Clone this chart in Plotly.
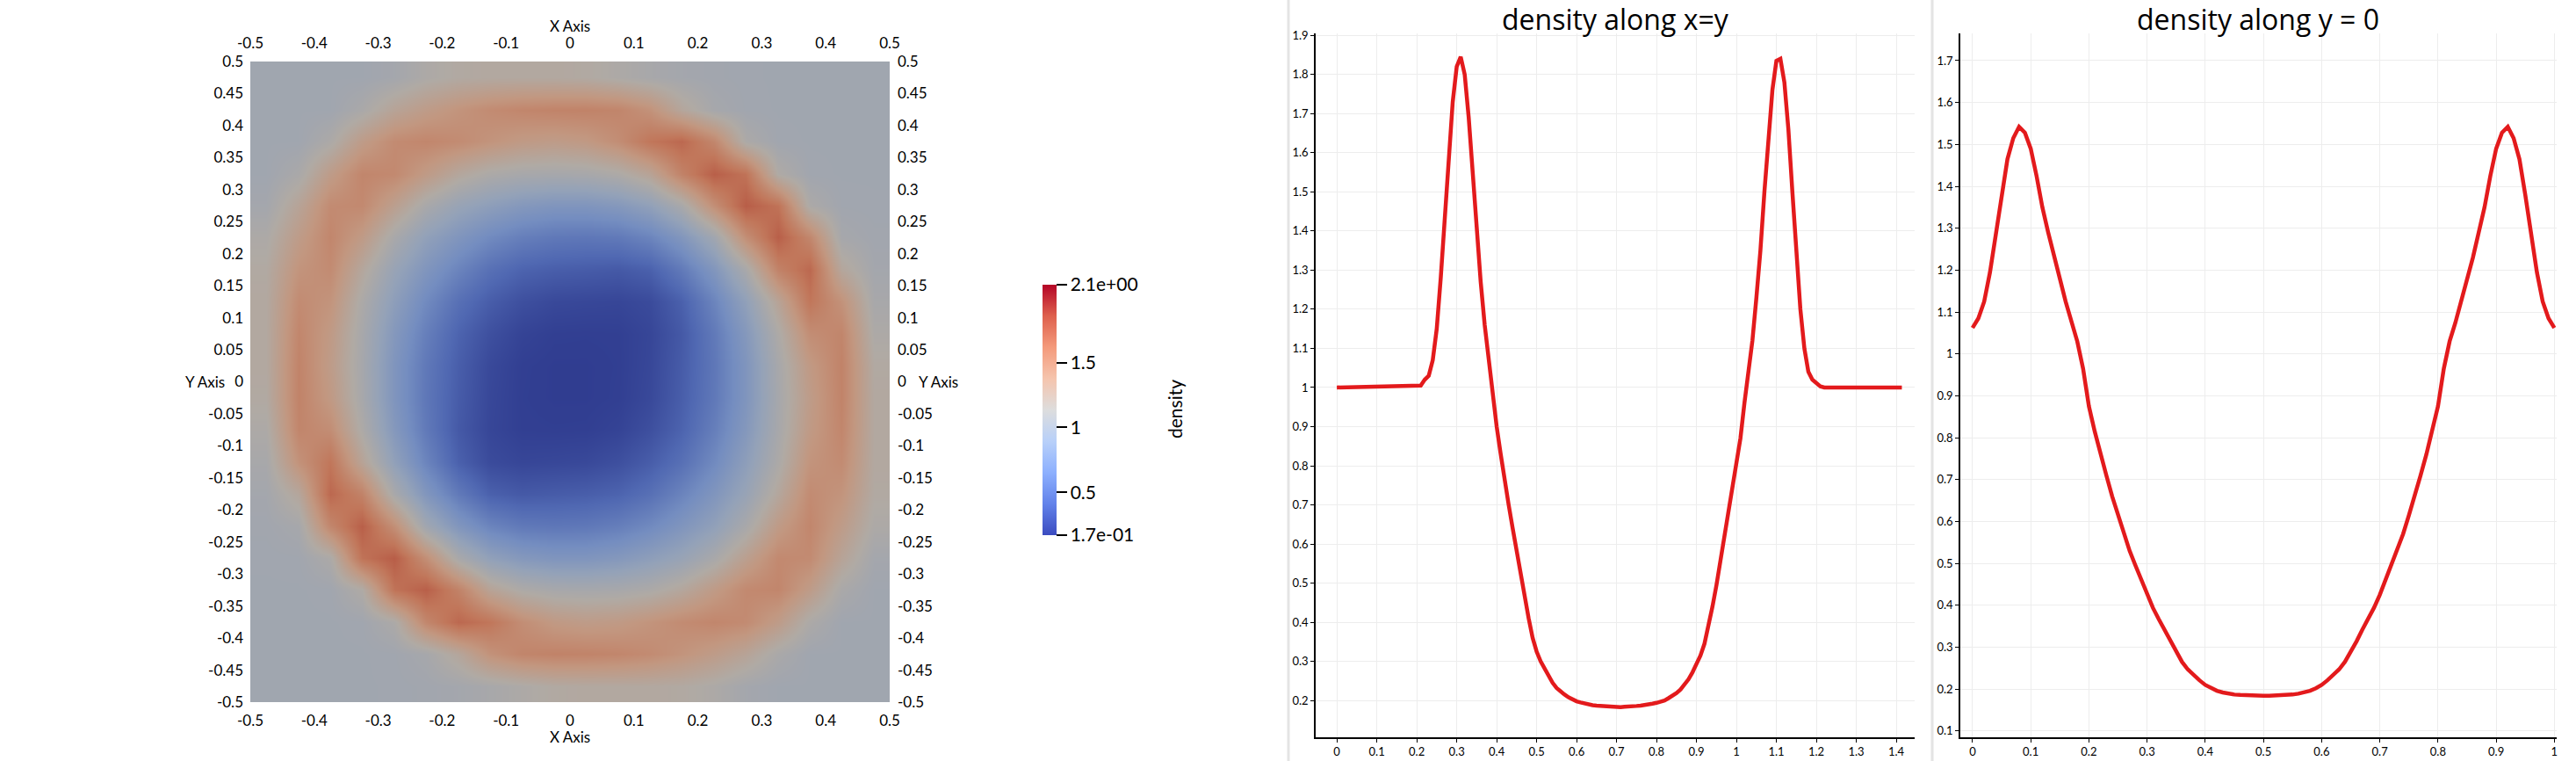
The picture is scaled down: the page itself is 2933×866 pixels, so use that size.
import plotly.graph_objects as go

FONT = "Lato"
TITLE_FONT = "Open Sans"
W, H = 2933, 866

# --- density map: cell centres and values ---
map_x = [-0.475, -0.425, -0.375, -0.325, -0.275, -0.225, -0.175, -0.125, -0.075, -0.025,
         0.025, 0.075, 0.125, 0.175, 0.225, 0.275, 0.325, 0.375, 0.425, 0.475]
map_y = [-0.475, -0.425, -0.375, -0.325, -0.275, -0.225, -0.175, -0.125, -0.075, -0.025,
         0.025, 0.075, 0.125, 0.175, 0.225, 0.275, 0.325, 0.375, 0.425, 0.475]

rho_m475 = [1.0, 1.0, 1.0, 1.0, 1.003, 1.013, 1.03, 1.063, 1.107, 1.15, 1.162, 1.164, 1.162, 1.15, 1.105, 1.032, 1.0, 1.0, 1.0, 1.0]
rho_m425 = [1.0, 1.0, 1.0, 1.0, 1.007, 1.05, 1.194, 1.415, 1.51, 1.53, 1.524, 1.505, 1.467, 1.40, 1.32, 1.225, 1.08, 1.0, 1.0, 1.0]
rho_m375 = [1.0, 1.0, 1.0, 1.006, 1.10, 1.50, 1.70, 1.62, 1.45, 1.35, 1.32, 1.342, 1.40, 1.466, 1.503, 1.468, 1.32, 1.10, 1.0, 1.0]
rho_m325 = [1.0, 1.0, 1.006, 1.125, 1.64, 1.75, 1.53, 1.23, 1.107, 1.058, 1.048, 1.059, 1.097, 1.186, 1.334, 1.482, 1.505, 1.32, 1.08, 1.0]
rho_m275 = [1.003, 1.007, 1.10, 1.64, 1.76, 1.44, 1.068, 0.871, 0.778, 0.739, 0.74, 0.775, 0.844, 0.928, 1.068, 1.277, 1.482, 1.468, 1.225, 1.032]
rho_m225 = [1.013, 1.05, 1.50, 1.75, 1.44, 1.0, 0.752, 0.596, 0.524, 0.508, 0.517, 0.557, 0.633, 0.743, 0.872, 1.068, 1.334, 1.503, 1.32, 1.105]
rho_m175 = [1.03, 1.194, 1.70, 1.53, 1.068, 0.752, 0.525, 0.372, 0.333, 0.346, 0.358, 0.387, 0.462, 0.59, 0.743, 0.928, 1.186, 1.466, 1.40, 1.15]
rho_m125 = [1.063, 1.415, 1.62, 1.23, 0.871, 0.596, 0.372, 0.259, 0.233, 0.239, 0.247, 0.282, 0.353, 0.462, 0.633, 0.844, 1.097, 1.40, 1.467, 1.162]
rho_m075 = [1.107, 1.51, 1.45, 1.107, 0.778, 0.524, 0.333, 0.233, 0.198, 0.195, 0.197, 0.219, 0.282, 0.387, 0.557, 0.775, 1.059, 1.342, 1.505, 1.164]
rho_m025 = [1.15, 1.53, 1.35, 1.058, 0.739, 0.508, 0.346, 0.239, 0.195, 0.186, 0.186, 0.197, 0.247, 0.358, 0.517, 0.74, 1.048, 1.32, 1.524, 1.162]
rho_p025 = [1.162, 1.524, 1.32, 1.048, 0.74, 0.517, 0.358, 0.247, 0.197, 0.186, 0.186, 0.195, 0.239, 0.346, 0.508, 0.739, 1.058, 1.35, 1.53, 1.15]
rho_p075 = [1.164, 1.505, 1.342, 1.059, 0.775, 0.557, 0.387, 0.282, 0.219, 0.197, 0.195, 0.198, 0.233, 0.333, 0.524, 0.778, 1.107, 1.45, 1.51, 1.107]
rho_p125 = [1.162, 1.467, 1.40, 1.097, 0.844, 0.633, 0.462, 0.353, 0.282, 0.247, 0.239, 0.233, 0.259, 0.372, 0.596, 0.871, 1.23, 1.62, 1.415, 1.063]
rho_p175 = [1.15, 1.40, 1.466, 1.186, 0.928, 0.743, 0.59, 0.462, 0.387, 0.358, 0.346, 0.333, 0.372, 0.525, 0.752, 1.068, 1.53, 1.70, 1.194, 1.03]
rho_p225 = [1.105, 1.32, 1.503, 1.334, 1.068, 0.872, 0.743, 0.633, 0.557, 0.517, 0.508, 0.524, 0.596, 0.752, 1.0, 1.44, 1.75, 1.50, 1.05, 1.013]
rho_p275 = [1.032, 1.225, 1.468, 1.482, 1.277, 1.068, 0.928, 0.844, 0.775, 0.74, 0.739, 0.778, 0.871, 1.068, 1.44, 1.76, 1.64, 1.10, 1.007, 1.003]
rho_p325 = [1.0, 1.08, 1.32, 1.505, 1.482, 1.334, 1.186, 1.097, 1.059, 1.048, 1.058, 1.107, 1.23, 1.53, 1.75, 1.64, 1.125, 1.006, 1.0, 1.0]
rho_p375 = [1.0, 1.0, 1.10, 1.32, 1.468, 1.503, 1.466, 1.40, 1.342, 1.32, 1.35, 1.45, 1.62, 1.70, 1.50, 1.10, 1.006, 1.0, 1.0, 1.0]
rho_p425 = [1.0, 1.0, 1.0, 1.08, 1.225, 1.32, 1.40, 1.467, 1.505, 1.524, 1.53, 1.51, 1.415, 1.194, 1.05, 1.007, 1.0, 1.0, 1.0, 1.0]
rho_p475 = [1.0, 1.0, 1.0, 1.0, 1.032, 1.105, 1.15, 1.162, 1.164, 1.162, 1.15, 1.107, 1.063, 1.03, 1.013, 1.003, 1.0, 1.0, 1.0, 1.0]

rho_map = [rho_m475, rho_m425, rho_m375, rho_m325, rho_m275, rho_m225, rho_m175,
           rho_m125, rho_m075, rho_m025, rho_p025, rho_p075, rho_p125, rho_p175,
           rho_p225, rho_p275, rho_p325, rho_p375, rho_p425, rho_p475]

map_xticks = [-0.5, -0.4, -0.3, -0.2, -0.1, 0.0, 0.1, 0.2, 0.3, 0.4, 0.5]
map_xtext = ["-0.5", "-0.4", "-0.3", "-0.2", "-0.1", "0", "0.1", "0.2", "0.3", "0.4", "0.5"]
map_yticks = [-0.5, -0.45, -0.4, -0.35, -0.3, -0.25, -0.2, -0.15, -0.1, -0.05, 0.0,
              0.05, 0.1, 0.15, 0.2, 0.25, 0.3, 0.35, 0.4, 0.45, 0.5]
map_ytext = ["-0.5", "-0.45", "-0.4", "-0.35", "-0.3", "-0.25", "-0.2", "-0.15", "-0.1", "-0.05", "0",
             "0.05", "0.1", "0.15", "0.2", "0.25", "0.3", "0.35", "0.4", "0.45", "0.5"]

cbar_vals = [0.17, 0.5, 1.0, 1.5, 2.1]
cbar_text = ["1.7e-01", "0.5", "1", "1.5", "2.1e+00"]

# --- line probe along x=y (arc length) ---
diag_s = [0.0, 0.21, 0.22, 0.23, 0.24, 0.25, 0.26, 0.27, 0.28, 0.29, 0.30,
          0.31, 0.32, 0.33, 0.34, 0.35, 0.36, 0.37, 0.38, 0.39, 0.40,
          0.41, 0.42, 0.43, 0.44, 0.45, 0.46, 0.47, 0.48, 0.49, 0.50,
          0.51, 0.52, 0.53, 0.54, 0.55, 0.56, 0.57, 0.58, 0.59, 0.60,
          0.61, 0.62, 0.63, 0.64, 0.65, 0.66, 0.67, 0.68, 0.69, 0.70,
          0.71, 0.72, 0.73, 0.74, 0.75, 0.76, 0.77, 0.78, 0.79, 0.80,
          0.81, 0.82, 0.83, 0.84, 0.85, 0.86, 0.87, 0.88, 0.89, 0.90,
          0.91, 0.92, 0.93, 0.94, 0.95, 0.96, 0.97, 0.98, 0.99, 1.00,
          1.01, 1.02, 1.03, 1.04, 1.05, 1.06, 1.07, 1.08, 1.09, 1.10,
          1.11, 1.12, 1.13, 1.14, 1.15, 1.16, 1.17, 1.18, 1.19, 1.20,
          1.21, 1.22, 1.414]
diag_rho = [1.0, 1.005, 1.02, 1.03, 1.07, 1.15, 1.28, 1.43, 1.60, 1.73, 1.82,
            1.845, 1.80, 1.69, 1.55, 1.40, 1.27, 1.16, 1.07, 1.00, 0.90,
            0.83, 0.76, 0.70, 0.64, 0.58, 0.52, 0.46, 0.41, 0.36, 0.325,
            0.30, 0.28, 0.26, 0.245, 0.232, 0.222, 0.215, 0.208, 0.202, 0.198,
            0.195, 0.192, 0.190, 0.188, 0.187, 0.186, 0.185, 0.184, 0.184, 0.183,
            0.183, 0.184, 0.184, 0.185, 0.186, 0.187, 0.188, 0.190, 0.192, 0.194,
            0.197, 0.200, 0.206, 0.212, 0.219, 0.228, 0.240, 0.254, 0.272, 0.292,
            0.315, 0.345, 0.39, 0.44, 0.495, 0.555, 0.615, 0.68, 0.74, 0.80,
            0.87, 0.96, 1.04, 1.12, 1.23, 1.35, 1.50, 1.64, 1.76, 1.835,
            1.84, 1.78, 1.66, 1.50, 1.34, 1.20, 1.10, 1.04, 1.02, 1.01,
            1.003, 1.0, 1.0]

# --- line probe along y = 0 ---
axis_x = [0.00, 0.01, 0.02, 0.03, 0.04, 0.05, 0.06, 0.07, 0.08, 0.09,
          0.10, 0.11, 0.12, 0.13, 0.14, 0.15, 0.16, 0.17, 0.18, 0.19,
          0.20, 0.21, 0.22, 0.23, 0.24, 0.25, 0.26, 0.27, 0.28, 0.29,
          0.30, 0.31, 0.32, 0.33, 0.34, 0.35, 0.36, 0.37, 0.38, 0.39,
          0.40, 0.41, 0.42, 0.43, 0.44, 0.45, 0.46, 0.47, 0.48, 0.49,
          0.50, 0.51, 0.52, 0.53, 0.54, 0.55, 0.56, 0.57, 0.58, 0.59,
          0.60, 0.61, 0.62, 0.63, 0.64, 0.65, 0.66, 0.67, 0.68, 0.69,
          0.70, 0.71, 0.72, 0.73, 0.74, 0.75, 0.76, 0.77, 0.78, 0.79,
          0.80, 0.81, 0.82, 0.83, 0.84, 0.85, 0.86, 0.87, 0.88, 0.89,
          0.90, 0.91, 0.92, 0.93, 0.94, 0.95, 0.96, 0.97, 0.98, 0.99, 1.00]
axis_rho = [1.062, 1.085, 1.125, 1.195, 1.285, 1.38, 1.465, 1.515, 1.542, 1.528,
            1.49, 1.425, 1.35, 1.29, 1.23, 1.18, 1.125, 1.075, 1.03, 0.965,
            0.875, 0.815, 0.76, 0.71, 0.66, 0.615, 0.57, 0.53, 0.495, 0.46,
            0.425, 0.394, 0.367, 0.342, 0.314, 0.289, 0.265, 0.247, 0.2335, 0.221,
            0.21, 0.202, 0.196, 0.192, 0.189, 0.187, 0.186, 0.185, 0.1845, 0.184,
            0.184, 0.184, 0.1845, 0.185, 0.186, 0.187, 0.189, 0.192, 0.196, 0.202,
            0.21, 0.221, 0.2335, 0.247, 0.265, 0.289, 0.314, 0.342, 0.367, 0.394,
            0.425, 0.46, 0.495, 0.53, 0.57, 0.615, 0.66, 0.71, 0.76, 0.815,
            0.875, 0.965, 1.03, 1.075, 1.125, 1.18, 1.23, 1.29, 1.35, 1.425,
            1.49, 1.528, 1.542, 1.515, 1.465, 1.38, 1.285, 1.195, 1.125, 1.085, 1.062]

# cool to warm, and the same map darkened the way the lit surface shows it
cool_warm = [[0.0, "rgb(59,76,192)"], [0.125, "rgb(98,130,234)"], [0.25, "rgb(141,176,254)"],
             [0.375, "rgb(184,208,249)"], [0.5, "rgb(221,221,221)"], [0.625, "rgb(245,196,173)"],
             [0.75, "rgb(244,154,123)"], [0.875, "rgb(222,96,77)"], [1.0, "rgb(180,4,38)"]]
shaded = [[0.0, "rgb(46,58,142)"], [0.125, "rgb(80,104,178)"], [0.25, "rgb(116,141,192)"],
          [0.375, "rgb(148,162,184)"], [0.5, "rgb(176,170,164)"], [0.625, "rgb(194,151,128)"],
          [0.75, "rgb(193,119,91)"], [0.875, "rgb(178,76,58)"], [1.0, "rgb(142,3,28)"]]


def px(x):
    return x / W


def py(y):
    return 1 - y / H


fig = go.Figure()

fig.add_trace(go.Heatmap(x=map_x, y=map_y, z=rho_map, zmin=0.17, zmax=2.1,
                         colorscale=shaded, zsmooth="best", showscale=False,
                         xaxis="x", yaxis="y", hoverinfo="skip"))

# colour bar with the unshaded map
cbar_font = dict(family=FONT, size=21, color="black")
cbar = dict(x=px(1187), xanchor="left", xpad=0, y=py(466.5), yanchor="middle", ypad=0,
            len=285, lenmode="pixels", thickness=16, thicknessmode="pixels",
            outlinewidth=0, ticks="outside", ticklen=12, tickwidth=1.5, tickcolor="black",
            tickvals=cbar_vals, ticktext=cbar_text, tickfont=cbar_font)
fig.add_trace(go.Scatter(x=[None], y=[None], mode="markers", xaxis="x", yaxis="y",
                         hoverinfo="skip",
                         marker=dict(color=[1.0], cmin=0.17, cmax=2.1, colorscale=cool_warm,
                                     showscale=True, colorbar=cbar)))

# dummy traces so the mirrored map axes get drawn
fig.add_trace(go.Scatter(x=[None], y=[None], xaxis="x4", yaxis="y", hoverinfo="skip"))
fig.add_trace(go.Scatter(x=[None], y=[None], xaxis="x", yaxis="y4", hoverinfo="skip"))

fig.add_trace(go.Scatter(x=diag_s, y=diag_rho, mode="lines",
                         line=dict(color="#e31a1c", width=4.5), xaxis="x2", yaxis="y2"))
fig.add_trace(go.Scatter(x=axis_x, y=axis_rho, mode="lines",
                         line=dict(color="#e31a1c", width=4.5), xaxis="x3", yaxis="y3"))

map_font = dict(family=FONT, size=17, color="black")
map_axis = dict(range=[-0.5, 0.5], showgrid=False, zeroline=False, showline=False,
                ticks="", tickfont=map_font, automargin=False)
line_axis = dict(showline=True, linecolor="black", linewidth=1.5, ticks="outside",
                 ticklen=4, tickwidth=1, tickcolor="black", showgrid=True,
                 gridcolor="#ededed", gridwidth=1, zeroline=False, dtick=0.1, tick0=0,
                 tickfont=dict(family=FONT, size=13, color="black"), automargin=False)

fig.update_layout(
    width=W, height=H, margin=dict(l=0, r=0, t=0, b=0, pad=0, autoexpand=False),
    paper_bgcolor="white", plot_bgcolor="white", showlegend=False,
    xaxis=dict(domain=[px(285), px(1013)], anchor="y", tickvals=map_xticks, ticktext=map_xtext,
               ticklabelstandoff=9, **map_axis),
    xaxis4=dict(overlaying="x", side="top", anchor="y", tickvals=map_xticks, ticktext=map_xtext,
                ticklabelstandoff=11, **map_axis),
    yaxis=dict(domain=[py(799), py(70)], anchor="x", tickvals=map_yticks, ticktext=map_ytext,
               ticklabelstandoff=7, **map_axis),
    yaxis4=dict(overlaying="y", side="right", anchor="x", tickvals=map_yticks, ticktext=map_ytext,
                ticklabelstandoff=8, **map_axis),
    xaxis2=dict(domain=[px(1498), px(2180)], anchor="y2", range=[-0.053, 1.446], **line_axis),
    yaxis2=dict(domain=[py(839), py(38)], anchor="x2", range=[0.106, 1.905], **line_axis),
    xaxis3=dict(domain=[px(2232), px(2911)], anchor="y3", range=[-0.021, 1.004], **line_axis),
    yaxis3=dict(domain=[py(839), py(38)], anchor="x3", range=[0.085, 1.765], **line_axis),
)

fig.add_annotation(text="X Axis", x=px(649), y=py(30), xref="paper", yref="paper",
                   xanchor="center", yanchor="middle", showarrow=False, font=map_font)
fig.add_annotation(text="X Axis", x=px(649), y=py(838), xref="paper", yref="paper",
                   xanchor="center", yanchor="middle", showarrow=False, font=map_font)
fig.add_annotation(text="Y Axis", x=px(258), y=0, xref="paper", yref="y",
                   xanchor="right", yanchor="middle", showarrow=False, font=map_font)
fig.add_annotation(text="Y Axis", x=px(1044), y=0, xref="paper", yref="y",
                   xanchor="left", yanchor="middle", showarrow=False, font=map_font)
fig.add_annotation(text="density", x=px(1338), y=py(466), xref="paper", yref="paper",
                   textangle=-90, xanchor="center", yanchor="middle", showarrow=False,
                   font=cbar_font)
fig.add_annotation(text="density along x=y", x=px(1839), y=py(21), xref="paper", yref="paper",
                   xanchor="center", yanchor="middle", showarrow=False,
                   font=dict(family=TITLE_FONT, size=32, color="black"))
fig.add_annotation(text="density along y = 0", x=px(2571), y=py(21), xref="paper", yref="paper",
                   xanchor="center", yanchor="middle", showarrow=False,
                   font=dict(family=TITLE_FONT, size=32, color="black"))

for sx in (1467, 2200):
    fig.add_shape(type="line", xref="paper", yref="paper", x0=px(sx), x1=px(sx), y0=0, y1=1,
                  line=dict(color="#e4e4e4", width=3))

fig.write_html("out.html", config={"displayModeBar": False},
               post_script="document.body.style.margin = '0px'; "
                           "document.documentElement.style.overflow = 'hidden';")
